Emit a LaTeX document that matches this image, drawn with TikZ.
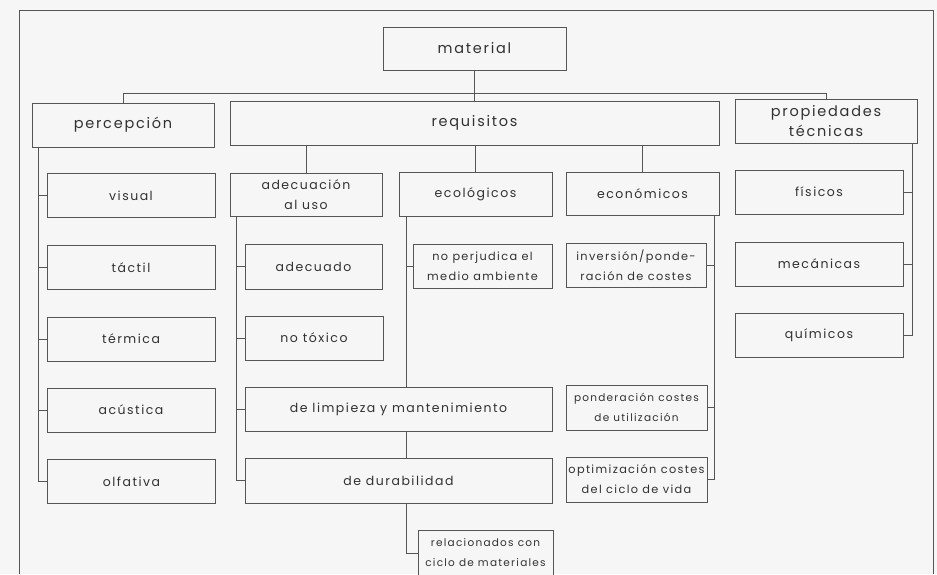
\documentclass[tikz,border=0pt]{standalone}
\usepackage{fontspec}
\setmainfont{Poppins}[LetterSpace=12]
\definecolor{paper}{RGB}{246,246,246}
\definecolor{ink}{RGB}{85,85,85}
\definecolor{txt}{RGB}{50,50,50}
\pgfdeclarelayer{bg}
\pgfdeclarelayer{conn}
\pgfsetlayers{bg,conn,main}
\tikzset{
  box/.style={draw=ink, line width=0.8pt, fill=paper, inner sep=0pt, align=center, text=txt},
  lvA/.style={box, font=\fontsize{14.5}{20}\selectfont},
  lvB/.style={box, font=\fontsize{12.5}{20}\selectfont},
  lvC/.style={box, font=\fontsize{11.3}{20}\selectfont},
  lvD/.style={box, font=\fontsize{10.5}{20}\selectfont},
  conn/.style={draw=ink, line width=0.8pt},
}
\begin{document}
\begin{tikzpicture}[x=1pt,y=-1pt]
\begin{pgfonlayer}{bg}
\fill[paper] (0,0) rectangle (937,574);
\end{pgfonlayer}
\useasboundingbox (0,0) rectangle (937,574);
\draw[conn] (19,574) -- (19,10) -- (933,10) -- (933,574);

% level 0/1
\node[lvA, minimum width=183pt, minimum height=43pt] (material) at (474.5,48.5) {material};
\node[lvA, minimum width=182pt, minimum height=44pt] (percepcion) at (123,125) {percepción};
\node[lvA, minimum width=489pt, minimum height=44pt] (requisitos) at (474.5,123) {requisitos};
\node[lvA, minimum width=182pt, minimum height=44pt] (propiedades) at (826,121) {propiedades\\técnicas};

% percepcion children
\node[lvB, minimum width=168pt, minimum height=44pt] (visual) at (131,195.5) {visual};
\node[lvB, minimum width=168pt, minimum height=44pt] (tactil) at (131,267.5) {táctil};
\node[lvB, minimum width=168pt, minimum height=44pt] (termica) at (131,339) {térmica};
\node[lvB, minimum width=168pt, minimum height=44pt] (acustica) at (131,410) {acústica};
\node[lvB, minimum width=168pt, minimum height=44pt] (olfativa) at (131.5,481.5) {olfativa};

% requisitos children
\node[lvB, minimum width=152pt, minimum height=43pt] (adecuacion) at (306,194.5) {adecuación\\al uso};
\node[lvB, minimum width=153pt, minimum height=44pt] (ecologicos) at (475.5,194) {ecológicos};
\node[lvB, minimum width=153pt, minimum height=43pt] (economicos) at (642.5,193.5) {económicos};

\node[lvB, minimum width=137pt, minimum height=45pt] (adecuado) at (313.5,266.5) {adecuado};
\node[lvB, minimum width=138pt, minimum height=44pt] (notoxico) at (314,338) {no tóxico};
\node[lvB, minimum width=307pt, minimum height=44pt] (limpieza) at (398.5,409) {de limpieza y mantenimiento};
\node[lvB, minimum width=307pt, minimum height=45pt] (durabilidad) at (398.5,480.5) {de durabilidad};

\node[lvC, minimum width=139pt, minimum height=44pt] (noperjudica) at (482.5,266) {no perjudica el\\medio ambiente};
\node[lvD, minimum width=135pt, minimum height=46pt] (relacionados) at (485.5,553) {relacionados con\\ciclo de materiales};

\node[lvC, minimum width=140pt, minimum height=44pt] (inversion) at (636,265) {inversión/ponde-\\ración de costes};
\node[lvD, minimum width=141pt, minimum height=45pt] (ponderacion) at (636.5,407.5) {ponderación costes\\de utilización};
\node[lvC, minimum width=141pt, minimum height=45pt] (optimizacion) at (636.5,479.5) {optimización costes\\del ciclo de vida};

% propiedades children
\node[lvB, minimum width=168pt, minimum height=44pt] (fisicos) at (819,192) {físicos};
\node[lvB, minimum width=168pt, minimum height=44pt] (mecanicas) at (819,264) {mecánicas};
\node[lvB, minimum width=168pt, minimum height=44pt] (quimicos) at (819,335) {químicos};

\coordinate (busL) at (123,93);
\coordinate (busR) at (826,93);

\begin{pgfonlayer}{conn}
\draw[conn] (material.south) -- (requisitos.north);
\draw[conn] (percepcion.north) -- (busL) -- (busR) -- (propiedades.north);
% requisitos to children
\draw[conn] (requisitos.south -| adecuacion.north) -- (adecuacion.north);
\draw[conn] (requisitos.south -| ecologicos.north) -- (ecologicos.north);
\draw[conn] (requisitos.south -| economicos.north) -- (economicos.north);
% percepcion tree
\foreach \c in {visual,tactil,termica,acustica,olfativa}
  \draw[conn] ([xshift=7pt]percepcion.south west) |- (\c.west);
% adecuacion tree
\foreach \c in {adecuado,notoxico,limpieza,durabilidad}
  \draw[conn] ([xshift=7pt]adecuacion.south west) |- (\c.west);
% ecologicos tree
\foreach \c in {noperjudica,relacionados}
  \draw[conn] ([xshift=8pt]ecologicos.south west) |- (\c.west);
% economicos tree
\foreach \c in {inversion,ponderacion,optimizacion}
  \draw[conn] ([xshift=-5pt]economicos.south east) |- (\c.east);
% propiedades tree
\foreach \c in {fisicos,mecanicas,quimicos}
  \draw[conn] ([xshift=-5pt]propiedades.south east) |- (\c.east);
\end{pgfonlayer}
\end{tikzpicture}
\end{document}
